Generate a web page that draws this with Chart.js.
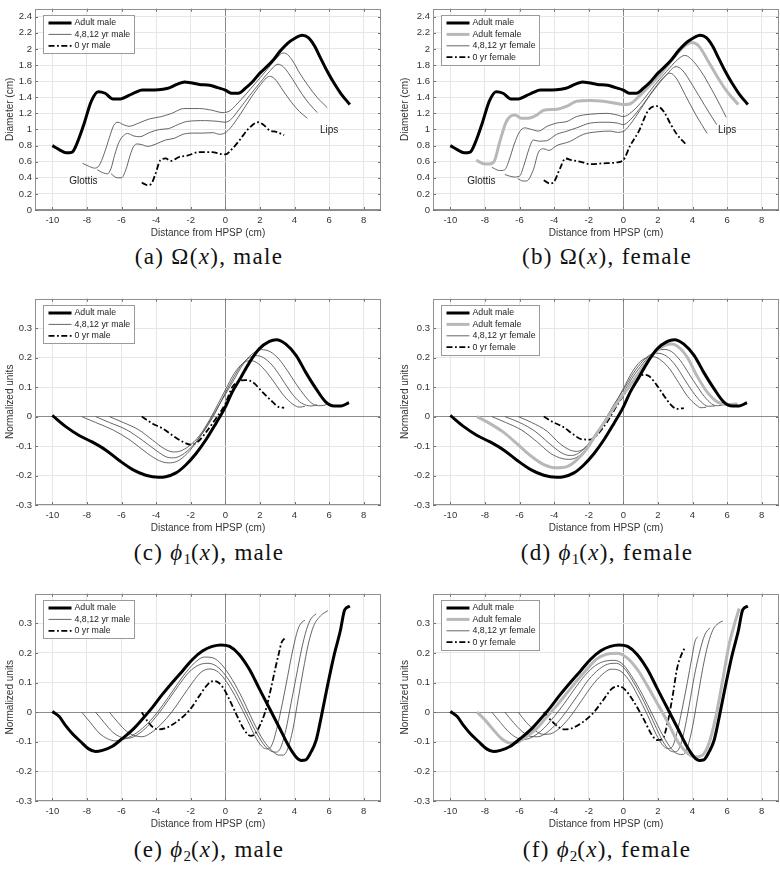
<!DOCTYPE html>
<html>
<head>
<meta charset="utf-8">
<script src="https://cdn.jsdelivr.net/npm/chart.js@4.4.1/dist/chart.umd.min.js"></script>
<style>
body { margin: 0; background: #fff; }
#fig { position: relative; width: 780px; height: 872px; overflow: hidden; }
canvas { position: absolute; }
.cap { position: absolute; font-family: "Liberation Serif", serif; font-size: 23px; color: #111;
       letter-spacing: 1.3px; white-space: nowrap; transform: translate(-50%, -50%); }
.cap sub { font-size: 15px; vertical-align: -4px; line-height: 0; letter-spacing: 0; }
</style>
</head>
<body>
<div id="fig">
  <canvas id="pa" width="390" height="240" style="left:0;top:0"></canvas>
  <canvas id="pb" width="390" height="240" style="left:390px;top:0"></canvas>
  <canvas id="pc" width="390" height="245" style="left:0;top:290px"></canvas>
  <canvas id="pd" width="390" height="245" style="left:390px;top:290px"></canvas>
  <canvas id="pe" width="390" height="246" style="left:0;top:585px"></canvas>
  <canvas id="pf" width="390" height="246" style="left:390px;top:585px"></canvas>
  <div class="cap" style="left:209px;top:257px">(a) Ω(<i>x</i>), male</div>
  <div class="cap" style="left:607px;top:257px">(b) Ω(<i>x</i>), female</div>
  <div class="cap" style="left:209px;top:553px">(c) <i>ϕ</i><sub>1</sub>(<i>x</i>), male</div>
  <div class="cap" style="left:607px;top:553px">(d) <i>ϕ</i><sub>1</sub>(<i>x</i>), female</div>
  <div class="cap" style="left:209px;top:850px">(e) <i>ϕ</i><sub>2</sub>(<i>x</i>), male</div>
  <div class="cap" style="left:607px;top:850px">(f) <i>ϕ</i><sub>2</sub>(<i>x</i>), female</div>
</div>
<script>
// tick labels
const xTicks = [-10, -8, -6, -4, -2, 0, 2, 4, 6, 8];
const yTicksOmega = [0, 0.2, 0.4, 0.6, 0.8, 1, 1.2, 1.4, 1.6, 1.8, 2, 2.2, 2.4];
const yTicksPhi = [-0.3, -0.2, -0.1, 0, 0.1, 0.2, 0.3];

// Omega(x): area function diameter (cm), pairs of [distance, value]
const omegaAdultMale = [[-10,0.80],[-9.6,0.75],[-9.2,0.71],[-8.85,0.72],[-8.55,0.84],[-8.15,1.08],[-7.75,1.35],[-7.35,1.47],[-6.95,1.45],[-6.5,1.38],[-6.05,1.38],[-5.6,1.42],[-5.2,1.46],[-4.8,1.49],[-4.1,1.49],[-3.6,1.50],[-3.2,1.52],[-2.8,1.56],[-2.35,1.59],[-2.0,1.58],[-1.5,1.56],[-0.9,1.55],[-0.45,1.52],[0,1.49],[0.35,1.45],[0.75,1.45],[1.2,1.52],[1.6,1.60],[2.0,1.70],[2.4,1.78],[2.8,1.87],[3.2,1.98],[3.6,2.07],[4.0,2.13],[4.45,2.17],[4.8,2.14],[5.15,2.04],[5.5,1.89],[5.9,1.72],[6.3,1.57],[6.7,1.44],[7.2,1.31]];
const omegaBoy12 = [[-8.25,0.58],[-7.85,0.54],[-7.55,0.52],[-7.3,0.55],[-7.0,0.70],[-6.7,0.90],[-6.45,1.05],[-6.2,1.09],[-5.9,1.06],[-5.55,1.04],[-5.0,1.08],[-4.4,1.13],[-3.7,1.16],[-3.1,1.20],[-2.4,1.26],[-1.5,1.26],[-0.8,1.24],[-0.15,1.21],[0.25,1.23],[0.6,1.30],[1.2,1.44],[1.8,1.59],[2.4,1.74],[2.9,1.87],[3.35,1.95],[3.6,1.93],[3.9,1.85],[4.3,1.70],[4.8,1.54],[5.3,1.40],[5.9,1.27]];
const omegaBoy8 = [[-7.4,0.50],[-7.05,0.46],[-6.8,0.45],[-6.6,0.52],[-6.4,0.68],[-6.15,0.84],[-5.9,0.92],[-5.65,0.95],[-5.3,0.92],[-4.95,0.91],[-4.4,0.96],[-3.8,1.00],[-3.3,1.01],[-2.75,1.06],[-2.2,1.10],[-1.2,1.11],[-0.4,1.10],[0,1.09],[0.3,1.12],[0.8,1.25],[1.4,1.42],[2.0,1.58],[2.55,1.72],[3.05,1.81],[3.35,1.78],[3.9,1.62],[4.4,1.45],[4.85,1.32],[5.32,1.21]];
const omegaBoy4 = [[-6.6,0.45],[-6.25,0.40],[-6.0,0.40],[-5.75,0.50],[-5.5,0.68],[-5.3,0.79],[-5.1,0.82],[-4.8,0.81],[-4.5,0.79],[-4.0,0.82],[-3.45,0.87],[-2.95,0.89],[-2.45,0.94],[-1.9,0.955],[-1.3,0.955],[-0.7,0.96],[-0.35,0.94],[0,0.96],[0.3,1.02],[0.9,1.20],[1.5,1.40],[2.05,1.56],[2.55,1.66],[2.85,1.63],[3.35,1.48],[3.85,1.33],[4.3,1.22],[4.74,1.14]];
const omegaBoy0 = [[-4.83,0.34],[-4.5,0.31],[-4.3,0.32],[-4.05,0.44],[-3.75,0.62],[-3.45,0.64],[-3.15,0.61],[-2.65,0.66],[-2.2,0.675],[-1.5,0.72],[-0.75,0.72],[-0.35,0.70],[0,0.69],[0.4,0.76],[0.8,0.86],[1.3,1.00],[1.9,1.09],[2.2,1.06],[2.55,0.99],[2.95,0.97],[3.4,0.93]];
const omegaAdultFemale = [[-8.5,0.62],[-8.0,0.57],[-7.75,0.57],[-7.45,0.61],[-7.15,0.84],[-6.8,1.08],[-6.55,1.16],[-6.25,1.18],[-5.9,1.14],[-5.5,1.14],[-5.0,1.18],[-4.6,1.24],[-3.85,1.25],[-3.25,1.29],[-2.7,1.35],[-1.9,1.36],[-1.15,1.35],[-0.55,1.33],[0,1.31],[0.4,1.32],[0.9,1.41],[1.55,1.55],[2.25,1.71],[2.9,1.89],[3.5,2.03],[3.95,2.08],[4.35,2.04],[4.85,1.87],[5.45,1.65],[6.0,1.47],[6.65,1.31]];
const omegaGirl12 = [[-7.6,0.53],[-7.15,0.49],[-6.85,0.50],[-6.6,0.62],[-6.3,0.82],[-6.0,0.97],[-5.7,1.02],[-5.3,1.00],[-4.9,0.98],[-4.4,1.04],[-3.85,1.08],[-3.25,1.10],[-2.7,1.16],[-1.9,1.19],[-0.95,1.20],[-0.35,1.18],[0,1.16],[0.5,1.22],[1.2,1.38],[1.8,1.55],[2.5,1.72],[3.1,1.86],[3.55,1.92],[3.9,1.88],[4.5,1.72],[5.1,1.50],[5.6,1.30],[5.95,1.15]];
const omegaGirl8 = [[-6.85,0.44],[-6.3,0.41],[-6.0,0.42],[-5.75,0.55],[-5.45,0.76],[-5.2,0.87],[-4.9,0.855],[-4.45,0.86],[-3.85,0.94],[-3.25,0.98],[-2.7,1.02],[-1.9,1.08],[-0.95,1.09],[-0.35,1.08],[0,1.06],[0.4,1.12],[1.1,1.30],[1.8,1.50],[2.5,1.68],[3.05,1.78],[3.4,1.74],[4.0,1.55],[4.7,1.30],[5.4,1.06]];
const omegaGirl4 = [[-6.1,0.39],[-5.8,0.36],[-5.6,0.36],[-5.2,0.50],[-4.9,0.72],[-4.6,0.76],[-4.3,0.74],[-3.85,0.80],[-3.1,0.85],[-2.3,0.94],[-1.55,0.97],[-0.75,0.98],[-0.35,0.965],[0,0.975],[0.35,1.05],[1.0,1.25],[1.7,1.48],[2.35,1.65],[2.7,1.70],[3.05,1.64],[3.6,1.42],[4.2,1.18],[4.85,0.95]];
const omegaGirl0 = [[-4.6,0.37],[-4.25,0.33],[-4.05,0.34],[-3.65,0.52],[-3.35,0.64],[-3.0,0.62],[-2.5,0.60],[-1.9,0.57],[-1.15,0.58],[-0.4,0.59],[0,0.62],[0.4,0.80],[0.9,0.98],[1.45,1.24],[1.95,1.29],[2.35,1.22],[2.75,1.06],[3.1,0.94],[3.6,0.82]];

// phi1(x): first mode (normalized units)
const phi1AdultMale = [[-10,0.004],[-9.2,-0.035],[-8.45,-0.064],[-7.7,-0.086],[-6.9,-0.114],[-6.15,-0.148],[-5.35,-0.18],[-4.6,-0.199],[-3.85,-0.206],[-3.45,-0.204],[-2.85,-0.191],[-2.3,-0.165],[-1.7,-0.126],[-1.1,-0.077],[-0.55,-0.024],[0,0.032],[0.4,0.083],[0.9,0.133],[1.4,0.184],[1.95,0.229],[2.55,0.255],[2.95,0.261],[3.5,0.246],[4.1,0.207],[4.65,0.15],[5.25,0.094],[5.8,0.05],[6.3,0.036],[6.7,0.036],[7.15,0.047]];
const phi1Boy12 = [[-8.3,0],[-7.5,-0.02],[-6.5,-0.045],[-5.5,-0.08],[-4.5,-0.125],[-3.8,-0.15],[-3.3,-0.157],[-2.8,-0.152],[-2.2,-0.125],[-1.6,-0.08],[-1.0,-0.025],[-0.5,0.025],[0,0.075],[0.5,0.125],[1.0,0.175],[1.5,0.21],[2.1,0.227],[2.6,0.22],[3.1,0.195],[3.6,0.155],[4.1,0.11],[4.6,0.07],[5.0,0.045],[5.4,0.037],[5.7,0.038],[5.95,0.046]];
const phi1Boy8 = [[-7.5,0],[-6.7,-0.02],[-5.7,-0.045],[-4.8,-0.08],[-4.0,-0.115],[-3.4,-0.137],[-3.0,-0.14],[-2.5,-0.13],[-1.9,-0.1],[-1.3,-0.055],[-0.7,0.0],[0,0.08],[0.5,0.135],[1.0,0.18],[1.4,0.2],[1.75,0.207],[2.2,0.2],[2.7,0.175],[3.2,0.135],[3.7,0.09],[4.2,0.055],[4.6,0.04],[5.0,0.036],[5.3,0.04]];
const phi1Boy4 = [[-6.7,0],[-5.9,-0.02],[-5.0,-0.045],[-4.2,-0.08],[-3.5,-0.11],[-3.0,-0.12],[-2.6,-0.117],[-2.1,-0.1],[-1.5,-0.065],[-0.9,-0.01],[-0.4,0.045],[0,0.09],[0.5,0.145],[1.0,0.18],[1.45,0.19],[1.9,0.18],[2.4,0.15],[2.9,0.11],[3.4,0.07],[3.9,0.042],[4.3,0.032],[4.6,0.035]];
const phi1Boy0 = [[-4.83,0],[-4.2,-0.024],[-3.6,-0.041],[-3.05,-0.064],[-2.45,-0.086],[-2.0,-0.095],[-1.6,-0.086],[-1.1,-0.052],[-0.55,-0.007],[0,0.043],[0.4,0.1],[0.8,0.12],[1.2,0.124],[1.6,0.116],[2.15,0.083],[2.75,0.049],[3.1,0.032],[3.4,0.03]];
const phi1AdultFemale = [[-8.45,0],[-7.7,-0.024],[-6.95,-0.052],[-6.15,-0.092],[-5.4,-0.131],[-4.6,-0.163],[-3.85,-0.174],[-3.25,-0.17],[-2.7,-0.148],[-2.1,-0.109],[-1.55,-0.058],[-0.95,-0.008],[-0.4,0.043],[0,0.075],[0.4,0.107],[1.0,0.156],[1.55,0.2],[2.15,0.234],[2.75,0.246],[3.1,0.24],[3.7,0.201],[4.25,0.139],[4.85,0.083],[5.45,0.049],[6.0,0.041],[6.6,0.043]];
const phi1Girl12 = [[-7.6,0],[-6.8,-0.02],[-5.9,-0.045],[-5.0,-0.085],[-4.2,-0.125],[-3.5,-0.143],[-3.1,-0.145],[-2.6,-0.135],[-2.0,-0.1],[-1.4,-0.05],[-0.8,0.005],[-0.3,0.05],[0,0.08],[0.5,0.13],[1.0,0.17],[1.5,0.205],[1.9,0.222],[2.35,0.228],[2.8,0.22],[3.3,0.19],[3.8,0.145],[4.3,0.1],[4.8,0.06],[5.2,0.04],[5.5,0.037],[5.8,0.04]];
const phi1Girl8 = [[-6.85,0],[-6.0,-0.02],[-5.1,-0.05],[-4.3,-0.09],[-3.6,-0.122],[-3.1,-0.132],[-2.7,-0.128],[-2.2,-0.105],[-1.6,-0.06],[-1.0,-0.005],[-0.5,0.045],[0,0.09],[0.5,0.14],[1.0,0.18],[1.5,0.208],[2.0,0.215],[2.5,0.205],[3.0,0.175],[3.5,0.13],[4.0,0.085],[4.5,0.05],[4.9,0.035],[5.3,0.036]];
const phi1Girl4 = [[-6.07,0],[-5.3,-0.02],[-4.4,-0.05],[-3.7,-0.09],[-3.1,-0.113],[-2.7,-0.118],[-2.3,-0.11],[-1.8,-0.08],[-1.2,-0.03],[-0.6,0.03],[0,0.095],[0.5,0.15],[1.0,0.188],[1.4,0.2],[1.75,0.203],[2.2,0.19],[2.7,0.16],[3.2,0.115],[3.7,0.07],[4.2,0.04],[4.5,0.03],[4.8,0.032]];
const phi1Girl0 = [[-4.6,0],[-4.05,-0.019],[-3.45,-0.036],[-2.9,-0.06],[-2.4,-0.077],[-1.9,-0.078],[-1.55,-0.064],[-0.95,-0.019],[-0.4,0.035],[0,0.071],[0.4,0.105],[0.8,0.133],[1.2,0.142],[1.5,0.137],[1.95,0.105],[2.35,0.071],[2.75,0.04],[3.1,0.026],[3.5,0.029]];

// phi2(x): second mode (normalized units)
const phi2AdultMale = [[-10,0.002],[-9.6,-0.015],[-9.25,-0.044],[-8.85,-0.072],[-8.35,-0.1],[-7.9,-0.124],[-7.5,-0.133],[-7.1,-0.129],[-6.55,-0.116],[-5.95,-0.089],[-5.35,-0.059],[-4.8,-0.024],[-4.2,0.017],[-3.65,0.059],[-3.05,0.101],[-2.45,0.141],[-1.9,0.178],[-1.3,0.207],[-0.75,0.222],[-0.25,0.227],[0.25,0.222],[0.8,0.195],[1.4,0.144],[1.95,0.081],[2.55,0.013],[3.15,-0.055],[3.7,-0.118],[4.1,-0.152],[4.4,-0.163],[4.65,-0.161],[4.95,-0.135],[5.25,-0.095],[5.55,-0.015],[5.9,0.087],[6.3,0.195],[6.65,0.275],[6.9,0.345],[7.2,0.358]];
const phi2Boy12 = [[-8.3,0],[-7.8,-0.035],[-7.3,-0.07],[-6.8,-0.09],[-6.35,-0.097],[-5.9,-0.092],[-5.4,-0.08],[-4.8,-0.055],[-4.2,-0.02],[-3.6,0.025],[-3.0,0.075],[-2.4,0.125],[-1.8,0.165],[-1.2,0.186],[-0.7,0.183],[-0.2,0.16],[0.4,0.11],[1.0,0.045],[1.6,-0.03],[2.2,-0.095],[2.7,-0.13],[3.1,-0.145],[3.35,-0.145],[3.6,-0.125],[3.9,-0.06],[4.2,0.04],[4.5,0.14],[4.8,0.23],[5.1,0.29],[5.5,0.325],[5.93,0.343]];
const phi2Boy8 = [[-7.5,0],[-7.0,-0.035],[-6.5,-0.068],[-6.0,-0.085],[-5.6,-0.088],[-5.1,-0.077],[-4.5,-0.048],[-3.9,-0.008],[-3.3,0.04],[-2.7,0.09],[-2.1,0.135],[-1.5,0.16],[-1.0,0.165],[-0.5,0.155],[0,0.125],[0.6,0.07],[1.2,0.0],[1.8,-0.07],[2.3,-0.115],[2.7,-0.133],[2.95,-0.135],[3.2,-0.12],[3.5,-0.06],[3.8,0.03],[4.1,0.12],[4.4,0.21],[4.7,0.28],[4.95,0.315],[5.25,0.332]];
const phi2Boy4 = [[-6.7,0],[-6.2,-0.035],[-5.7,-0.065],[-5.2,-0.08],[-4.8,-0.083],[-4.3,-0.07],[-3.7,-0.04],[-3.1,0.0],[-2.5,0.05],[-1.9,0.1],[-1.4,0.135],[-0.9,0.146],[-0.4,0.135],[0.1,0.1],[0.7,0.04],[1.3,-0.03],[1.8,-0.09],[2.2,-0.12],[2.45,-0.124],[2.7,-0.11],[3.0,-0.05],[3.3,0.03],[3.6,0.12],[3.9,0.21],[4.2,0.28],[4.45,0.305],[4.6,0.31]];
const phi2Boy0 = [[-4.83,0],[-4.5,-0.03],[-4.2,-0.05],[-3.85,-0.058],[-3.5,-0.055],[-3.0,-0.04],[-2.5,-0.018],[-2.0,0.012],[-1.5,0.055],[-1.0,0.095],[-0.7,0.105],[-0.4,0.1],[-0.1,0.08],[0.3,0.035],[0.7,-0.015],[1.1,-0.06],[1.45,-0.08],[1.7,-0.075],[2.0,-0.045],[2.3,0.0],[2.6,0.07],[2.9,0.15],[3.1,0.2],[3.25,0.235],[3.45,0.25]];
const phi2AdultFemale = [[-8.45,0],[-8.0,-0.026],[-7.5,-0.06],[-7.05,-0.089],[-6.55,-0.104],[-6.05,-0.1],[-5.6,-0.083],[-5.0,-0.055],[-4.45,-0.018],[-3.85,0.022],[-3.25,0.065],[-2.7,0.105],[-2.1,0.145],[-1.55,0.179],[-0.95,0.196],[-0.35,0.199],[0.2,0.184],[0.8,0.145],[1.35,0.093],[1.95,0.031],[2.55,-0.032],[3.1,-0.095],[3.7,-0.138],[4.15,-0.151],[4.55,-0.146],[4.95,-0.106],[5.35,-0.015],[5.75,0.11],[6.1,0.224],[6.4,0.292],[6.7,0.35]];
const phi2Girl12 = [[-7.6,0],[-7.1,-0.035],[-6.6,-0.068],[-6.1,-0.088],[-5.7,-0.092],[-5.2,-0.082],[-4.6,-0.055],[-4.0,-0.015],[-3.4,0.03],[-2.8,0.08],[-2.2,0.125],[-1.6,0.158],[-1.0,0.173],[-0.5,0.175],[0,0.16],[0.5,0.12],[1.1,0.06],[1.7,-0.01],[2.3,-0.08],[2.8,-0.125],[3.2,-0.142],[3.45,-0.143],[3.7,-0.12],[4.0,-0.05],[4.3,0.05],[4.6,0.15],[4.9,0.23],[5.2,0.28],[5.5,0.3],[5.75,0.308]];
const phi2Girl8 = [[-6.85,0],[-6.35,-0.035],[-5.85,-0.065],[-5.35,-0.082],[-4.95,-0.083],[-4.4,-0.068],[-3.8,-0.035],[-3.2,0.01],[-2.6,0.06],[-2.0,0.11],[-1.4,0.145],[-0.9,0.162],[-0.4,0.165],[0.1,0.145],[0.6,0.1],[1.2,0.035],[1.8,-0.04],[2.3,-0.1],[2.7,-0.13],[3.0,-0.134],[3.25,-0.12],[3.5,-0.07],[3.8,0.02],[4.1,0.12],[4.4,0.2],[4.7,0.26],[5.0,0.285]];
const phi2Girl4 = [[-6.07,0],[-5.6,-0.035],[-5.1,-0.062],[-4.6,-0.075],[-4.2,-0.073],[-3.6,-0.05],[-3.0,-0.01],[-2.4,0.04],[-1.8,0.09],[-1.2,0.128],[-0.7,0.145],[-0.2,0.14],[0.3,0.11],[0.8,0.06],[1.4,-0.01],[1.9,-0.075],[2.3,-0.113],[2.6,-0.123],[2.85,-0.115],[3.1,-0.07],[3.4,0.01],[3.7,0.1],[3.95,0.18],[4.15,0.24],[4.3,0.255]];
const phi2Girl0 = [[-4.6,0],[-4.05,-0.035],[-3.45,-0.058],[-3.0,-0.055],[-2.3,-0.032],[-1.7,0.0],[-1.15,0.042],[-0.65,0.08],[-0.25,0.088],[0.1,0.076],[0.6,0.036],[1.2,-0.026],[1.65,-0.077],[1.95,-0.094],[2.25,-0.092],[2.55,-0.038],[2.85,0.054],[3.1,0.145],[3.4,0.2],[3.6,0.22]];

// line styles
const styles = {
    adultMale: { color: '#000000', width: 3, dash: [] },
    adultFemale: { color: '#b8b8b8', width: 3, dash: [] },
    child: { color: '#555555', width: 0.9, dash: [] },
    newborn: { color: '#000000', width: 1.8, dash: [6, 2.5, 1.8, 2.5] }
};

const FONT = '"Liberation Sans", Arial, sans-serif';

function series(points, style) {
    return {
        data: points.map(p => ({ x: p[0], y: p[1] })),
        borderColor: style.color,
        borderWidth: style.width,
        borderDash: style.dash,
        pointRadius: 0,
        fill: false,
        cubicInterpolationMode: 'monotone'
    };
}

// draws the MATLAB-like box, inner ticks, legend and notes
const figPlugin = {
    id: 'fig',
    afterDraw(chart, args, opts) {
        const { ctx, chartArea: a, scales } = chart;
        ctx.save();
        ctx.strokeStyle = '#6e6e6e';
        ctx.lineWidth = 1;
        ctx.beginPath();
        scales.x.ticks.forEach(t => {
            const px = Math.round(scales.x.getPixelForValue(t.value)) + 0.5;
            ctx.moveTo(px, a.bottom); ctx.lineTo(px, a.bottom - 3);
            ctx.moveTo(px, a.top); ctx.lineTo(px, a.top + 3);
        });
        scales.y.ticks.forEach(t => {
            const py = Math.round(scales.y.getPixelForValue(t.value)) + 0.5;
            ctx.moveTo(a.left, py); ctx.lineTo(a.left + 3, py);
            ctx.moveTo(a.right, py); ctx.lineTo(a.right - 3, py);
        });
        ctx.stroke();
        ctx.strokeStyle = '#8f8f8f';
        ctx.strokeRect(Math.round(a.left) + 0.5, Math.round(a.top) + 0.5,
            Math.round(a.width) - 1, Math.round(a.height) - 1);

        // legend
        const items = opts.legend || [];
        ctx.font = '8.8px ' + FONT;
        const textW = Math.max(...items.map(it => ctx.measureText(it.label).width));
        const bx = Math.round(a.left) + 8.5, by = Math.round(a.top) + 6.5;
        const rowH = 11.4;
        const bw = Math.round(31 + textW + 4), bh = Math.round(items.length * rowH + 4);
        ctx.fillStyle = '#fff';
        ctx.fillRect(bx, by, bw, bh);
        ctx.strokeStyle = '#9a9a9a';
        ctx.lineWidth = 1;
        ctx.strokeRect(bx, by, bw, bh);
        items.forEach((it, i) => {
            const y = by + 7.5 + i * rowH;
            ctx.strokeStyle = it.style.color;
            ctx.lineWidth = it.style.width;
            ctx.setLineDash(it.style.dash);
            ctx.beginPath();
            ctx.moveTo(bx + 5, y); ctx.lineTo(bx + 28, y);
            ctx.stroke();
            ctx.setLineDash([]);
            ctx.fillStyle = '#222';
            ctx.textBaseline = 'middle';
            ctx.textAlign = 'left';
            ctx.fillText(it.label, bx + 31, y);
        });

        // text notes
        ctx.font = '10px ' + FONT;
        ctx.fillStyle = '#222';
        ctx.textAlign = 'center';
        ctx.textBaseline = 'middle';
        (opts.notes || []).forEach(n => {
            ctx.fillText(n.text, scales.x.getPixelForValue(n.x), scales.y.getPixelForValue(n.y));
        });
        ctx.restore();
    }
};

function makePanel(id, cfg) {
    const tickFmt = v => (Math.abs(v) < 1e-9 ? '0' : String(Math.round(v * 10) / 10));
    const gridColor = c => (c.tick && Math.abs(c.tick.value) < 1e-9 ? '#8c8c8c' : '#e6e6e6');
    new Chart(document.getElementById(id), {
        type: 'line',
        data: { datasets: cfg.datasets },
        options: {
            responsive: false,
            animation: false,
            events: [],
            layout: { padding: { top: cfg.padTop, right: cfg.padRight, bottom: 0, left: 0 } },
            plugins: {
                legend: { display: false },
                tooltip: { enabled: false },
                fig: { legend: cfg.legend, notes: cfg.notes }
            },
            scales: {
                x: {
                    type: 'linear', min: -11, max: 9,
                    afterBuildTicks: s => { s.ticks = xTicks.map(v => ({ value: v })); },
                    afterFit: s => { s.height = 30; },
                    grid: { color: gridColor, drawTicks: false, lineWidth: 1 },
                    border: { display: false },
                    ticks: { padding: 5, color: '#333', font: { family: FONT, size: 9.5 }, callback: tickFmt, maxRotation: 0 },
                    title: { display: true, text: 'Distance from HPSP (cm)', color: '#333',
                        font: { family: FONT, size: 10 }, padding: { top: 0, bottom: 1 } }
                },
                y: {
                    type: 'linear', min: cfg.yMin, max: cfg.yMax,
                    afterBuildTicks: s => { s.ticks = cfg.yTicks.map(v => ({ value: v })); },
                    afterFit: s => { s.width = cfg.yWidth; },
                    grid: { color: gridColor, drawTicks: false, lineWidth: 1 },
                    border: { display: false },
                    ticks: { padding: 3, color: '#333', font: { family: FONT, size: 9.5 }, callback: tickFmt },
                    title: { display: true, text: cfg.yTitle, color: '#333',
                        font: { family: FONT, size: 10 }, padding: { top: cfg.yTitlePad, bottom: 0 } }
                }
            }
        },
        plugins: [figPlugin]
    });
}

const maleLegend = [
    { label: 'Adult male', style: styles.adultMale },
    { label: '4,8,12 yr male', style: styles.child },
    { label: '0 yr male', style: styles.newborn }
];
const femaleLegend = [
    { label: 'Adult male', style: styles.adultMale },
    { label: 'Adult female', style: styles.adultFemale },
    { label: '4,8,12 yr female', style: styles.child },
    { label: '0 yr female', style: styles.newborn }
];
const omegaNotes = [
    { text: 'Glottis', x: -8.2, y: 0.36 },
    { text: 'Lips', x: 6.0, y: 0.99 }
];

const leftCol = { yWidth: 35, yTitlePad: 4, padRight: 9 };
const rightCol = { yWidth: 43, yTitlePad: 9, padRight: 1 };

makePanel('pa', Object.assign({}, leftCol, {
    padTop: 2, yMin: 0, yMax: 2.5, yTicks: yTicksOmega, yTitle: 'Diameter (cm)',
    legend: maleLegend, notes: omegaNotes,
    datasets: [series(omegaAdultMale, styles.adultMale), series(omegaBoy12, styles.child),
        series(omegaBoy8, styles.child), series(omegaBoy4, styles.child), series(omegaBoy0, styles.newborn)]
}));
makePanel('pb', Object.assign({}, rightCol, {
    padTop: 2, yMin: 0, yMax: 2.5, yTicks: yTicksOmega, yTitle: 'Diameter (cm)',
    legend: femaleLegend, notes: omegaNotes,
    datasets: [series(omegaAdultMale, styles.adultMale), series(omegaAdultFemale, styles.adultFemale),
        series(omegaGirl12, styles.child), series(omegaGirl8, styles.child), series(omegaGirl4, styles.child),
        series(omegaGirl0, styles.newborn)]
}));
makePanel('pc', Object.assign({}, leftCol, {
    padTop: 8, yMin: -0.3, yMax: 0.4, yTicks: yTicksPhi, yTitle: 'Normalized units',
    legend: maleLegend,
    datasets: [series(phi1AdultMale, styles.adultMale), series(phi1Boy12, styles.child),
        series(phi1Boy8, styles.child), series(phi1Boy4, styles.child), series(phi1Boy0, styles.newborn)]
}));
makePanel('pd', Object.assign({}, rightCol, {
    padTop: 8, yMin: -0.3, yMax: 0.4, yTicks: yTicksPhi, yTitle: 'Normalized units',
    legend: femaleLegend,
    datasets: [series(phi1AdultMale, styles.adultMale), series(phi1AdultFemale, styles.adultFemale),
        series(phi1Girl12, styles.child), series(phi1Girl8, styles.child), series(phi1Girl4, styles.child),
        series(phi1Girl0, styles.newborn)]
}));
makePanel('pe', Object.assign({}, leftCol, {
    padTop: 8, yMin: -0.3, yMax: 0.4, yTicks: yTicksPhi, yTitle: 'Normalized units',
    legend: maleLegend,
    datasets: [series(phi2AdultMale, styles.adultMale), series(phi2Boy12, styles.child),
        series(phi2Boy8, styles.child), series(phi2Boy4, styles.child), series(phi2Boy0, styles.newborn)]
}));
makePanel('pf', Object.assign({}, rightCol, {
    padTop: 8, yMin: -0.3, yMax: 0.4, yTicks: yTicksPhi, yTitle: 'Normalized units',
    legend: femaleLegend,
    datasets: [series(phi2AdultMale, styles.adultMale), series(phi2AdultFemale, styles.adultFemale),
        series(phi2Girl12, styles.child), series(phi2Girl8, styles.child), series(phi2Girl4, styles.child),
        series(phi2Girl0, styles.newborn)]
}));
</script>
</body>
</html>
